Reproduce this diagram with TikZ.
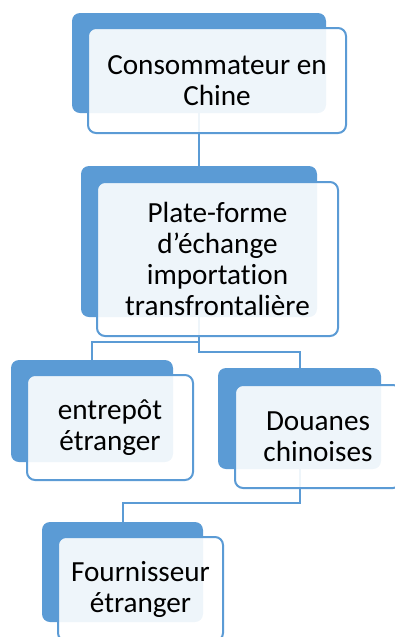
\documentclass[tikz,border=0pt]{standalone}
\usepackage{fontspec}
\setmainfont{Carlito}[Ligatures=NoCommon]
\definecolor{blu}{HTML}{5B9BD5}
\begin{document}
\begin{tikzpicture}[x=0.75pt,y=-0.75pt,
  boxsize/.style n args={2}{minimum width=#1*0.75pt, minimum height=#2*0.75pt},
  backbox/.style={rectangle, rounded corners=6pt, fill=blu, draw=none, inner sep=0pt, outer sep=0pt},
  frontbox/.style={rectangle, rounded corners=6pt, draw=blu, line width=1.5pt, fill=white, fill opacity=0.9, text opacity=1, text=black, inner sep=0pt, outer sep=0pt, align=center, font=\fontsize{21.9}{23.3}\selectfont},
  conn/.style={draw=blu, line width=1.5pt}]
\useasboundingbox (0,0) rectangle (395,637);
\clip (0,0) rectangle (395,637);
% back boxes
\node[backbox, boxsize={254}{100}] (b1) at (199,63) {};
\node[backbox, boxsize={236}{151}] (b2) at (199,241.5) {};
\node[backbox, boxsize={162}{102}] (b3) at (92,411) {};
\node[backbox, boxsize={163}{101}] (b4) at (299.5,418.5) {};
\node[backbox, boxsize={161}{100}] (b5) at (122.5,572) {};
% connectors
\draw[conn] (b1.south) -- (b2.north);
\draw[conn] (b2.south) -- ++(0,25) -| (b3.north);
\draw[conn] (b2.south) -- ++(0,35) -| (b4.north);
\draw[conn] (b4.south) -- ++(0,34) -| (b5.north);
% front boxes
\node[frontbox, boxsize={258}{105}] (f1) at (217,80.5) {Consommateur en\\Chine};
\node[frontbox, boxsize={241}{154}] (f2) at (217.5,259) {Plate-forme\\d’échange\\importation\\transfrontalière};
\node[frontbox, boxsize={166}{105}] (f3) at (110,427.5) {entrepôt\\étranger};
\node[frontbox, boxsize={166}{103}] (f4) at (318,436.5) {Douanes\\chinoises};
\node[frontbox, boxsize={165}{104}] (f5) at (140.5,589) {Fournisseur\\étranger};
\end{tikzpicture}
\end{document}
